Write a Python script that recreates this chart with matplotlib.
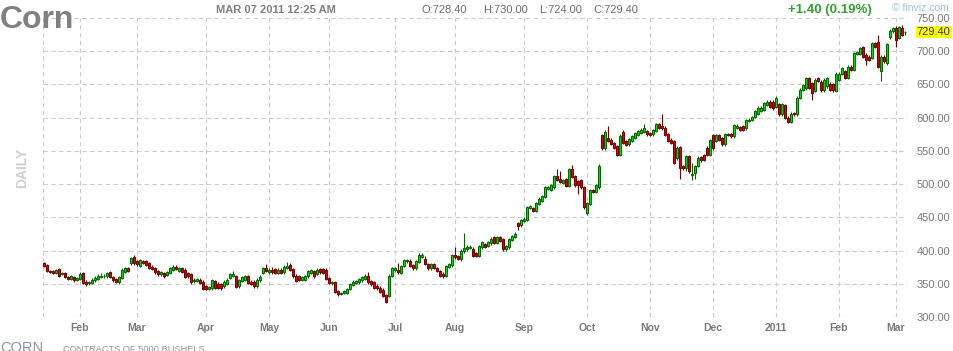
import numpy as np
import matplotlib
matplotlib.use("Agg")
import matplotlib.pyplot as plt
from matplotlib.transforms import blended_transform_factory

plt.rcParams['font.family'] = ['Liberation Sans', 'DejaVu Sans']

#------------------------------------------------------------------
# Daily corn futures, one bar per trading day (index 0 = 1 Feb 2010)
#------------------------------------------------------------------
first_day = -12

opens = [
    381, 378, 369, 369, 366, 372, 365, 366, 360, 357, 360, 356,
    357, 366, 353, 351, 351, 355, 357, 360, 362, 361, 367, 360,
    357, 352, 359, 368, 374, 381, 390, 384, 377, 384, 384, 381,
    376, 374, 369, 364, 366, 363, 366, 371, 376, 369, 373, 371,
    366, 364, 354, 354, 356, 353, 346, 342, 343, 354, 350, 349,
    346, 350, 359, 362, 361, 346, 354, 356, 361, 353, 353, 346,
    355, 366, 374, 367, 371, 372, 366, 371, 367, 374, 379, 372,
    362, 361, 356, 356, 361, 366, 369, 365, 372, 372, 371, 358,
    351, 352, 339, 335, 336, 336, 342, 348, 351, 352, 355, 357,
    361, 354, 352, 347, 344, 341, 333, 332, 362, 370, 371, 366,
    377, 384, 385, 378, 373, 383, 391, 387, 380, 373, 380, 374,
    369, 365, 362, 375, 378, 394, 392, 387, 399, 402, 404, 403,
    396, 392, 405, 410, 407, 411, 420, 412, 420, 417, 402, 405,
    416, 421, 441, 438, 445, 446, 464, 464, 460, 470, 475, 481,
    493, 491, 495, 512, 507, 502, 507, 497, 522, 512, 504, 506,
    495, 456, 470, 491, 488, 495, 574, 554, 569, 567, 562, 557,
    544, 579, 565, 560, 565, 570, 574, 577, 579, 580, 577, 575,
    580, 590, 587, 585, 575, 567, 565, 539, 556, 527, 525, 542,
    513, 517, 527, 541, 544, 555, 544, 574, 565, 574, 569, 560,
    575, 575, 572, 585, 586, 587, 584, 595, 597, 601, 606, 610,
    612, 619, 624, 624, 616, 620, 605, 619, 600, 594, 607, 605,
    630, 642, 644, 659, 652, 640, 659, 654, 641, 647, 651, 650,
    640, 657, 666, 670, 660, 677, 672, 696, 696, 706, 695, 692,
    690, 712, 714, 670, 692, 682, 721, 730, 735, 720, 735, 728.4,
]

highs = [
    383, 380, 371, 371, 372, 374, 368, 368, 362, 363, 362, 360,
    367, 368, 355, 354, 358, 362, 365, 366, 364, 368, 369, 362,
    359, 362, 373, 375, 376, 391, 393, 386, 388, 386, 386, 383,
    378, 376, 371, 369, 368, 369, 376, 378, 378, 375, 375, 373,
    368, 366, 358, 359, 358, 355, 348, 347, 357, 356, 352, 351,
    355, 358, 366, 369, 363, 357, 362, 363, 363, 355, 355, 358,
    363, 376, 380, 373, 376, 374, 373, 373, 378, 383, 381, 374,
    364, 363, 362, 363, 371, 372, 371, 373, 374, 374, 373, 360,
    354, 354, 341, 338, 341, 344, 351, 355, 356, 359, 362, 365,
    368, 356, 354, 349, 346, 343, 335, 364, 375, 376, 382, 379,
    388, 388, 387, 380, 386, 396, 396, 392, 382, 382, 382, 376,
    371, 367, 379, 382, 395, 405, 394, 402, 426, 408, 408, 405,
    398, 409, 415, 412, 415, 420, 422, 422, 422, 419, 409, 419,
    424, 428, 443, 448, 450, 467, 469, 466, 473, 480, 484, 497,
    497, 500, 514, 523, 520, 508, 509, 524, 529, 514, 506, 508,
    497, 473, 493, 493, 500, 530, 576, 581, 588, 569, 564, 559,
    575, 581, 567, 570, 574, 579, 582, 584, 591, 582, 579, 583,
    592, 592, 605, 587, 577, 569, 567, 557, 558, 529, 544, 544,
    532, 529, 542, 543, 546, 557, 568, 576, 576, 576, 571, 577,
    577, 577, 591, 590, 588, 589, 598, 599, 603, 612, 617, 617,
    624, 626, 626, 626, 633, 622, 622, 621, 602, 608, 609, 632,
    644, 651, 661, 661, 654, 659, 661, 656, 659, 661, 653, 652,
    668, 668, 676, 672, 679, 679, 699, 701, 707, 708, 697, 694,
    714, 714, 724, 694, 694, 713, 733, 737, 738, 738, 740, 730,
]

lows = [
    375, 367, 366, 364, 364, 360, 363, 358, 355, 355, 353, 354,
    355, 349, 347, 348, 349, 353, 355, 358, 359, 359, 358, 353,
    351, 350, 357, 366, 367, 379, 379, 377, 375, 380, 377, 372,
    370, 365, 362, 362, 359, 361, 364, 369, 370, 367, 366, 358,
    359, 350, 351, 352, 349, 340, 340, 340, 341, 342, 342, 341,
    344, 348, 357, 360, 343, 344, 352, 354, 349, 348, 343, 344,
    353, 364, 367, 365, 365, 364, 364, 364, 365, 372, 369, 359,
    352, 354, 354, 354, 359, 364, 359, 363, 365, 364, 355, 349,
    348, 336, 332, 333, 334, 334, 340, 346, 349, 350, 353, 355,
    350, 347, 342, 341, 336, 330, 321, 330, 360, 368, 365, 364,
    375, 382, 375, 371, 371, 381, 389, 378, 370, 371, 372, 367,
    360, 359, 360, 373, 376, 388, 386, 385, 397, 400, 402, 390,
    390, 390, 403, 404, 405, 409, 410, 410, 413, 400, 400, 403,
    414, 419, 431, 436, 443, 444, 462, 458, 458, 468, 473, 479,
    491, 489, 493, 504, 501, 500, 495, 495, 509, 496, 485, 493,
    463, 454, 468, 486, 486, 493, 552, 552, 563, 559, 553, 542,
    542, 560, 557, 558, 563, 568, 572, 575, 577, 573, 572, 573,
    578, 583, 582, 572, 563, 560, 530, 537, 508, 521, 520, 517,
    506, 507, 525, 534, 535, 542, 542, 552, 563, 565, 558, 558,
    572, 570, 570, 583, 580, 580, 582, 593, 595, 599, 604, 608,
    610, 617, 614, 612, 614, 603, 603, 598, 592, 592, 603, 603,
    628, 640, 642, 643, 626, 638, 653, 639, 639, 645, 640, 639,
    638, 655, 664, 658, 658, 670, 670, 694, 694, 690, 680, 685,
    688, 705, 675, 655, 683, 680, 719, 728, 706, 718, 723, 724,
]

closes = [
    377, 369, 368, 366, 370, 362, 366, 360, 357, 361, 355, 358,
    365, 351, 350, 352, 356, 358, 361, 362, 362, 366, 360, 355,
    353, 360, 371, 373, 369, 389, 381, 380, 386, 382, 379, 374,
    372, 367, 364, 367, 361, 367, 374, 375, 372, 373, 368, 360,
    361, 352, 356, 357, 351, 342, 342, 345, 355, 344, 344, 343,
    353, 356, 364, 365, 345, 355, 360, 361, 351, 350, 346, 356,
    360, 374, 369, 371, 367, 366, 371, 366, 376, 377, 371, 361,
    354, 356, 360, 361, 369, 370, 361, 371, 367, 366, 357, 351,
    352, 338, 334, 336, 339, 342, 349, 353, 354, 357, 360, 361,
    352, 349, 344, 343, 338, 332, 323, 362, 373, 374, 367, 377,
    386, 386, 377, 373, 384, 393, 394, 380, 373, 380, 374, 369,
    362, 361, 377, 380, 393, 390, 388, 400, 404, 406, 406, 392,
    392, 407, 413, 406, 413, 418, 412, 420, 415, 402, 407, 417,
    422, 425, 437, 446, 448, 465, 467, 460, 471, 478, 482, 495,
    495, 498, 512, 506, 503, 506, 497, 522, 511, 498, 498, 495,
    465, 471, 491, 488, 498, 528, 554, 579, 565, 561, 555, 544,
    573, 562, 559, 568, 572, 577, 580, 582, 584, 575, 574, 581,
    590, 585, 584, 574, 565, 562, 532, 555, 525, 524, 542, 519,
    515, 527, 540, 536, 537, 544, 566, 554, 574, 567, 560, 575,
    574, 572, 589, 588, 582, 582, 596, 597, 601, 610, 615, 615,
    622, 624, 616, 614, 629, 605, 620, 600, 594, 606, 605, 630,
    642, 649, 659, 645, 637, 657, 655, 641, 657, 659, 642, 641,
    666, 666, 674, 660, 677, 672, 697, 699, 705, 692, 687, 687,
    712, 707, 677, 692, 685, 711, 731, 735, 717, 736, 725, 729.4,
]

# first trading day of each month, as bar index
month_pos = [0, 19, 42, 63, 83, 105, 125, 148, 169, 190, 211, 232, 253, 272]
month_labels = ["Feb", "Mar", "Apr", "May", "Jun", "Jul", "Aug", "Sep",
                "Oct", "Nov", "Dec", "2011", "Feb", "Mar"]
price_ticks = [300, 350, 400, 450, 500, 550, 600, 650, 700, 750]

last_close = 729.40
header_quote = ["O:728.40", "H:730.00", "L:724.00", "C:729.40"]
change_text = "+1.40 (0.19%)"

W, H = 954, 351
def px(x, y):
    # pixel position (from top-left) -> figure fraction
    return x / W, 1 - y / H

fig = plt.figure(figsize=(W / 100, H / 100), dpi=100)
ax = fig.add_axes([43 / W, 34 / H, 864 / W, 299 / H])

x = np.arange(len(closes)) + first_day
o = np.array(opens)
c = np.array(closes)
hi = np.array(highs)
lo = np.array(lows)
up = c >= o

xmin, xmax = first_day - 0.33, x[-1] + 0.67
ax.set_xlim(xmin, xmax)
ax.set_ylim(300, 750)

grid_kw = dict(color="#cccccc", lw=0.8, linestyle=(0, (4, 3)), zorder=0)
ax.hlines(price_ticks, xmin, xmax, **grid_kw)
ax.vlines(month_pos + [xmin, xmax], 300, 750, **grid_kw)

# wicks then bodies
ax.vlines(x[up], lo[up], hi[up], color="#006a00", lw=0.8, zorder=2)
ax.vlines(x[~up], lo[~up], hi[~up], color="#7a0000", lw=0.8, zorder=2)
body = np.abs(c - o)
ax.bar(x[up], body[up], bottom=np.minimum(o, c)[up], width=0.62,
       color="#00e000", edgecolor="#006a00", linewidth=0.75, zorder=3)
ax.bar(x[~up], body[~up], bottom=np.minimum(o, c)[~up], width=0.62,
       color="#dd0000", edgecolor="#7a0000", linewidth=0.75, zorder=3)

for s in ax.spines.values():
    s.set_visible(False)

ax.set_xticks(month_pos, month_labels)
ax.tick_params(axis="x", length=0, pad=4, labelsize=7.5, labelcolor="#7a7a7a")
for t in ax.get_xticklabels():
    t.set_fontweight("bold")

ax.yaxis.tick_right()
ax.set_yticks(price_ticks, ["%.2f" % v for v in price_ticks])
ax.tick_params(axis="y", length=0, pad=7, labelsize=8, labelcolor="#7a7a7a")

# last price tag
trans = blended_transform_factory(ax.transAxes, ax.transData)
ax.annotate("%.2f" % last_close, xy=(1, last_close), xycoords=trans,
            xytext=(7, 0), textcoords="offset points", ha="left", va="center",
            fontsize=8, color="#333333", annotation_clip=False,
            bbox=dict(boxstyle="square,pad=0.1", fc="#ffff00", ec="none"))

# header
fig.text(*px(0, 28), "Corn", fontsize=23, fontweight="bold", color="#808080")
fig.text(*px(216, 13), "MAR 07 2011 12:25 AM", fontsize=8, fontweight="bold",
         color="#808080")
for xx, s in zip([422, 483, 539, 593], header_quote):
    fig.text(*px(xx, 13), s, fontsize=8, color="#6e6e6e")
fig.text(*px(788, 13), change_text, fontsize=9.5, fontweight="bold", color="#2fa52f")
fig.text(*px(892, 11), "\u00a9 finviz.com", fontsize=7.5, color="#9cc0e0")

fig.text(*px(22, 168), "DAILY", rotation=90, ha="center", va="center",
         fontsize=10, fontweight="bold", color="#cfcfcf")

# footer (cut by the image edge, as in the source)
fig.text(*px(0, 352), "CORN", fontsize=10.5, color="#8a94a6")
fig.text(*px(63, 352.5), "CONTRACTS OF 5000 BUSHELS", fontsize=6.7, color="#8a94a6")

fig.savefig("out.png", dpi=100)
